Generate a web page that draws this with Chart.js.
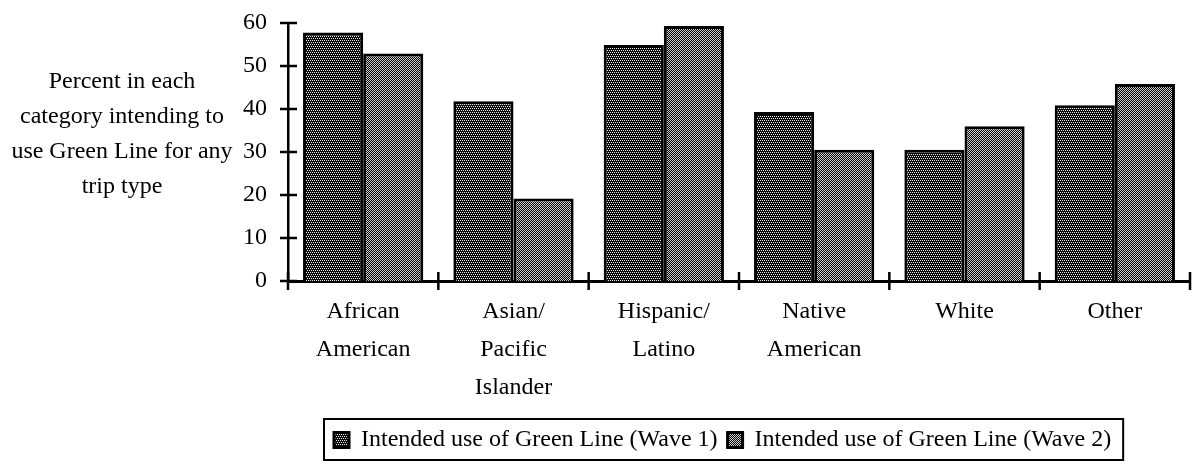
<!DOCTYPE html>
<html>

<head>
    <title>Intended use of Green Line</title>
    <script src="https://cdn.jsdelivr.net/npm/chart.js"></script>
    <style>
        body { margin: 0; background: #fff; }
        #wrap { width: 1192px; height: 464px; }
    </style>
</head>

<body>
    <div id="wrap">
        <canvas id="useChart" width="1192" height="464"></canvas>
    </div>

    <script>
        // values
        const categories = [["African", "American"], ["Asian/", "Pacific", "Islander"], ["Hispanic/", "Latino"], ["Native", "American"], "White", "Other"];
        const wave1 = [57.8, 41.8, 54.9, 39.3, 30.5, 40.9];
        const wave2 = [52.9, 19.2, 59.3, 30.5, 36.0, 45.8];
        const seriesNames = ["Intended use of Green Line (Wave 1)", "Intended use of Green Line (Wave 2)"];
        const yTicks = [0, 10, 20, 30, 40, 50, 60];
        const yTitle = ["Percent in each", "category intending to", "use Green Line for any", "trip type"];

        const serif = "'Liberation Serif', 'Times New Roman', serif";
        const canvas = document.getElementById("useChart");
        const ctx = canvas.getContext("2d");

        // small dither tiles, "o" = light pixel
        function makePattern(rows, light, dark) {
            const tile = document.createElement("canvas");
            tile.width = rows[0].length;
            tile.height = rows.length;
            const g = tile.getContext("2d");
            rows.forEach((row, y) => {
                for (let x = 0; x < row.length; x++) {
                    g.fillStyle = row[x] === "o" ? light : dark;
                    g.fillRect(x, y, 1, 1);
                }
            });
            return ctx.createPattern(tile, "repeat");
        }

        const darkDots = makePattern(["o.o.", "....", ".o.o", "...."], "#e8e8e8", "#0c0c0c");
        const lightDots = makePattern(["o.", ".o"], "#cfcfcf", "#000000");

        // ticks that cross the axes, plus the horizontal y title
        const axisExtras = {
            id: "axisExtras",
            afterDraw(chart) {
                const { ctx, scales: { x, y } } = chart;
                ctx.save();
                ctx.strokeStyle = "#000";
                ctx.lineWidth = 2.5;
                ctx.beginPath();
                yTicks.forEach((v) => {
                    const py = y.getPixelForValue(v);
                    ctx.moveTo(x.left - 8, py);
                    ctx.lineTo(x.left + 9, py);
                });
                for (let i = 0; i <= categories.length; i++) {
                    const px = x.getPixelForValue(i - 0.5);
                    ctx.moveTo(px, y.bottom - 9);
                    ctx.lineTo(px, y.bottom + 9);
                }
                ctx.stroke();

                ctx.fillStyle = "#000";
                ctx.font = "24px " + serif;
                ctx.textAlign = "center";
                ctx.textBaseline = "middle";
                yTitle.forEach((line, i) => {
                    ctx.fillText(line, 122, chart.chartArea.top + 59 + i * 35);
                });
                ctx.restore();
            }
        };

        // move the legend a bit right and put a frame round it
        const legendFrame = {
            id: "legendFrame",
            afterLayout(chart) {
                const lg = chart.legend;
                lg.left += 36;
                lg.right += 36;
            },
            afterDraw(chart) {
                const lg = chart.legend;
                const boxes = lg.legendHitBoxes;
                if (!boxes || !boxes.length) return;
                const last = boxes[boxes.length - 1];
                const left = boxes[0].left - 10;
                const right = last.left + last.width + 12;
                const { ctx } = chart;
                ctx.save();
                ctx.strokeStyle = "#000";
                ctx.lineWidth = 2;
                ctx.strokeRect(left, lg.top + 1, right - left, lg.bottom - lg.top - 3);
                ctx.restore();
            }
        };

        new Chart(ctx, {
            type: "bar",
            data: {
                labels: categories,
                datasets: [
                    {
                        label: seriesNames[0],
                        data: wave1,
                        backgroundColor: darkDots,
                        borderColor: "#000",
                        borderWidth: 3,
                    },
                    {
                        label: seriesNames[1],
                        data: wave2,
                        backgroundColor: lightDots,
                        borderColor: "#000",
                        borderWidth: 3,
                    },
                ],
            },
            options: {
                responsive: false,
                animation: false,
                layout: { padding: { top: 23, right: 2, bottom: 2, left: 0 } },
                datasets: {
                    bar: { categoryPercentage: 0.8, barPercentage: 1.0 },
                },
                plugins: {
                    tooltip: { enabled: false },
                    legend: {
                        position: "bottom",
                        align: "start",
                        fullSize: false,
                        labels: {
                            color: "#000",
                            font: { family: serif, size: 24 },
                            boxWidth: 15,
                            boxHeight: 15,
                            padding: 10,
                        },
                    },
                },
                scales: {
                    x: {
                        z: 1,
                        grid: { display: false, drawTicks: false },
                        border: { display: true, color: "#000", width: 3 },
                        ticks: {
                            color: "#000",
                            font: { family: serif, size: 24, lineHeight: 1.58 },
                            padding: 12,
                            autoSkip: false,
                            maxRotation: 0,
                        },
                        afterFit(scale) { scale.height = 137; },
                    },
                    y: {
                        z: 1,
                        min: 0,
                        max: 60,
                        grid: { display: false, drawTicks: false },
                        border: { display: true, color: "#000", width: 2.5 },
                        ticks: {
                            stepSize: 10,
                            color: "#000",
                            font: { family: serif, size: 24 },
                            padding: 21,
                        },
                        afterFit(scale) {
                            scale.width = 288;
                            // the tick padding should not push the plot down
                            scale.paddingTop = 0;
                            scale.paddingBottom = 0;
                        },
                    },
                },
            },
            plugins: [axisExtras, legendFrame],
        });
    </script>
</body>

</html>
